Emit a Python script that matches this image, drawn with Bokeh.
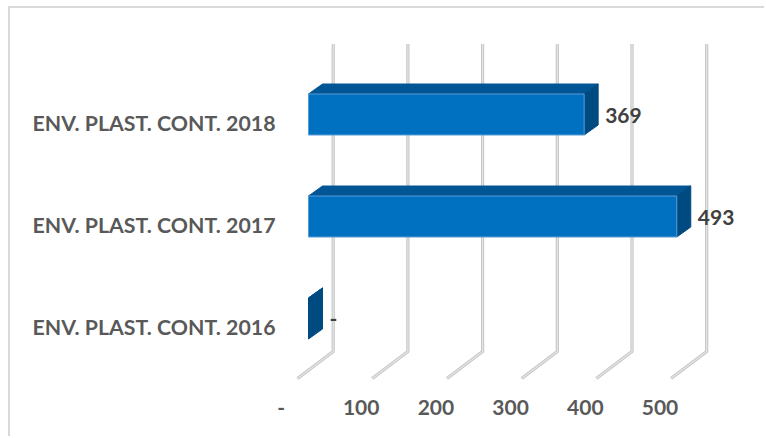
from bokeh.embed import file_html
from bokeh.resources import INLINE
from bokeh.plotting import figure
from bokeh.models import ColumnDataSource, LinearAxis, Range1d, FixedTicker
from bokeh.core.properties import value

categories = ["ENV. PLAST. CONT. 2016", "ENV. PLAST. CONT. 2017", "ENV. PLAST. CONT. 2018"]
values = [0, 493, 369]
data_labels = ["-", "493", "369"]
grid_ticks = [0, 100, 200, 300, 400, 500]
tick_labels = ["-", "100", "200", "300", "400", "500"]

PX = 0.747          # px per value unit
ROW = 102.0         # px per category
FONT = "Lato"
FS = "21px"
FS_CAT = "21.3px"

# page geometry
FIG_L, FIG_T = 10, 8
FRAME_L, FRAME_R, FRAME_T, FRAME_B = 272, 766, 8, 392
PAGE_B = 438

dx = 14 / PX        # depth of the 3D bars
dy = 10 / ROW
half = 20.5 / ROW
gx = 24.7 / PX      # back wall offset
top_y = 1 + (216 - 43.5) / ROW
floor_y = 1 - (351 - 216) / ROW
fdx = 35.7 / PX
fdy = 27 / ROW

p = figure(width=FRAME_R - FIG_L, height=PAGE_B - FIG_T, output_backend="svg", toolbar_location=None,
           x_range=Range1d((FRAME_L - 308) / PX, (FRAME_R - 308) / PX),
           y_range=Range1d(1 - (FRAME_B - 216) / ROW, 1 + (216 - FRAME_T) / ROW),
           x_axis_location=None, y_axis_location=None,
           min_border_left=FRAME_L - FIG_L, min_border_right=0, min_border_top=0,
           min_border_bottom=PAGE_B - FRAME_B)
p.styles = {"position": "absolute", "left": f"{FIG_L}px", "top": f"{FIG_T}px",
            "outline": "none",
            "box-shadow": "-2px -2px 0 0 #d9d9d9"}
p.outline_line_color = None
p.xgrid.visible = False
p.ygrid.visible = False
p.background_fill_color = "white"
p.border_fill_color = "white"

# Axes with shifted ranges: Excel's 3D labels sit off the value positions
p.extra_x_ranges["labels"] = Range1d((FRAME_L - 286) / PX, (FRAME_R - 286) / PX)
p.extra_y_ranges["labels"] = Range1d(1 - (FRAME_B - 224) / ROW, 1 + (224 - FRAME_T) / ROW)

x_tick_pos = [-7] + grid_ticks[1:]
xax = LinearAxis(x_range_name="labels", ticker=FixedTicker(ticks=x_tick_pos),
                 major_label_overrides={t: l for t, l in zip(x_tick_pos, tick_labels)})
yax = LinearAxis(y_range_name="labels", ticker=FixedTicker(ticks=list(range(len(categories)))),
                 major_label_overrides={i: c for i, c in enumerate(categories)})
for ax, fs, standoff in ((xax, FS, 7), (yax, FS_CAT, -3)):
    ax.axis_line_color = None
    ax.major_tick_line_color = None
    ax.minor_tick_line_color = None
    ax.major_tick_in = 0
    ax.major_tick_out = 0
    ax.minor_tick_in = 0
    ax.minor_tick_out = 0
    ax.major_label_text_font = FONT
    ax.major_label_text_font_style = "bold"
    ax.major_label_text_font_size = fs
    ax.major_label_text_color = "#595959"
    ax.major_label_standoff = standoff
p.add_layout(xax, "below")
p.add_layout(yax, "left")

# Gridlines: back wall and floor
gxs = [[t + gx, t + gx, t + gx - fdx] for t in grid_ticks]
gys = [[top_y, floor_y, floor_y - fdy] for t in grid_ticks]
p.multi_line(gxs, gys, line_color="#c4c4c4", line_width=3.2, line_join="round")
p.multi_line(gxs, gys, line_color="#e6e6e6", line_width=1.2, line_join="round")

# 3D bars
idx = list(range(len(values)))
top_xs = [[0, v, v + dx, dx] for v in values]
top_ys = [[i + half, i + half, i + half + dy, i + half + dy] for i in idx]
side_xs = [[v, v + dx, v + dx, v] for v in values]
side_ys = [[i - half, i - half + dy, i + half + dy, i + half] for i in idx]
p.patches(top_xs, top_ys, fill_color="#005694", line_color="#005694", line_width=1)
p.patches(side_xs, side_ys, fill_color="#004a82", line_color="#004a82", line_width=1)
front = [j for j, v in enumerate(values) if v > 0]
p.hbar(y=[idx[j] for j in front], left=0, right=[values[j] for j in front], height=2 * half,
       fill_color="#0070c0", line_color="#5b9bd5", line_width=1)

# Data labels
src = ColumnDataSource(dict(x=[v + 21 / PX for v in values],
                            y=[i - 0.01 if v else i for i, v in zip(idx, values)],
                            t=data_labels))
p.text("x", "y", text="t", source=src, text_font=value(FONT), text_font_style="bold",
       text_font_size=FS, text_color="#404040", text_align="left", text_baseline="middle")

open("out.html", "w").write(file_html(p, INLINE))
